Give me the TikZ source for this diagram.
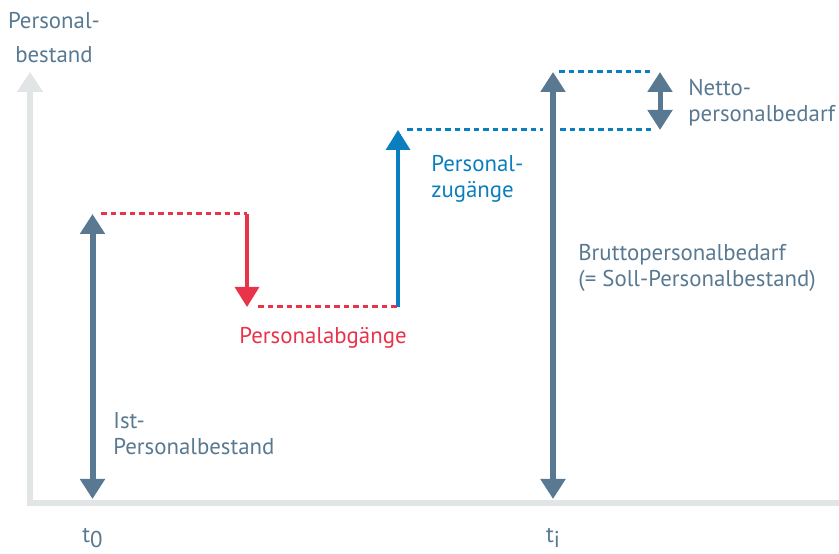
\documentclass[tikz,border=0pt]{standalone}
\usepackage{fontspec}
\setmainfont{PT Sans}
\usetikzlibrary{arrows.meta,positioning}

\definecolor{slate}{RGB}{88,121,145}
\definecolor{abgang}{RGB}{232,52,75}
\definecolor{zugang}{RGB}{10,126,190}
\definecolor{achse}{RGB}{225,229,230}

\begin{document}
\begin{tikzpicture}[
        axis/.style={achse, line width=0.12cm, line join=miter},
        bestand/.style={slate, line width=0.12cm},
        flow/.style={line width=0.065cm},
        guide/.style={line width=0.06cm, dash pattern=on 0.11cm off 0.08cm},
        lbl/.style={font=\fontsize{13pt}{15.3pt}\selectfont, align=left, inner sep=0pt},
        head/.tip={Triangle[width=0.48cm,length=0.4cm]},
        axhead/.tip={Triangle[width=0.5cm,length=0.4cm]}
    ]
        \useasboundingbox (0,0) rectangle (16.78,11.06);

        \coordinate (o) at (0.60,1.00);
        \coordinate (ytop) at (0.60,9.62);
        \coordinate (xend) at (16.78,1.00);

        \coordinate (a0) at (1.85,1.08);
        \coordinate (a1) at (1.85,6.78);
        \coordinate (r1) at (4.94,6.78);
        \coordinate (r2) at (4.94,4.92);
        \coordinate (b1) at (7.96,4.92);
        \coordinate (b2) at (7.96,8.46);
        \coordinate (g0) at (11.06,1.08);
        \coordinate (g1) at (11.06,9.62);
        \coordinate (n1) at (13.20,9.62);
        \coordinate (n2) at (13.20,8.46);
        \coordinate (m) at (g1 |- b2);

        \draw[axis, axhead-] (ytop) -- (o) -- (xend);

        \draw[guide, abgang] ([xshift=0.17cm]a1) -- (r1);
        \draw[guide, abgang] ([xshift=0.22cm]r2) -- (b1);
        \draw[guide, zugang] ([xshift=0.18cm]b2) -- ([xshift=-0.2cm]m);
        \draw[guide, zugang] ([xshift=0.14cm]m) -- ([xshift=-0.16cm]n2);
        \draw[guide, zugang] ([xshift=0.12cm]g1) -- ([xshift=-0.16cm]n1);

        \draw[bestand, head-head] (a0) -- (a1);
        \draw[flow, abgang, -head] (r1) -- (r2);
        \draw[flow, zugang, -head] (b1) -- (b2);
        \draw[bestand, head-head] (g0) -- (g1);
        \draw[slate, line width=0.1cm, head-head] (n1) -- (n2);

        \node (ylbl) [lbl, align=center, slate, above right=0.18cm and 0.48cm of ytop, anchor=base] {Personal-\\[4.4pt]bestand};
        \node (ist) [lbl, slate, above right=0.88cm and 0.41cm of a0, anchor=base west] {Ist-\\Personalbestand};
        \node (ab) [lbl, abgang, below left=0.74cm and 0.16cm of r2, anchor=base west] {Personalabgänge};
        \node (zu) [lbl, zugang, below right=1.36cm and 0.66cm of b2, anchor=base west] {Personal-\\zugänge};
        \node (brutto) [lbl, slate, below right=4.30cm and 0.50cm of g1, anchor=base west] {Bruttopersonalbedarf\\(= Soll-Personalbestand)};
        \node (netto) [lbl, slate, below right=1.00cm and 0.56cm of n1, anchor=base west] {Netto-\\personalbedarf};

        \node (tnull) [lbl, slate, below=0.86cm of a0, anchor=base] {t\raisebox{-3pt}{0}};
        \node (ti) [lbl, slate, below=0.86cm of g0, anchor=base] {t\raisebox{-3pt}{i}};
    \end{tikzpicture}
\end{document}
